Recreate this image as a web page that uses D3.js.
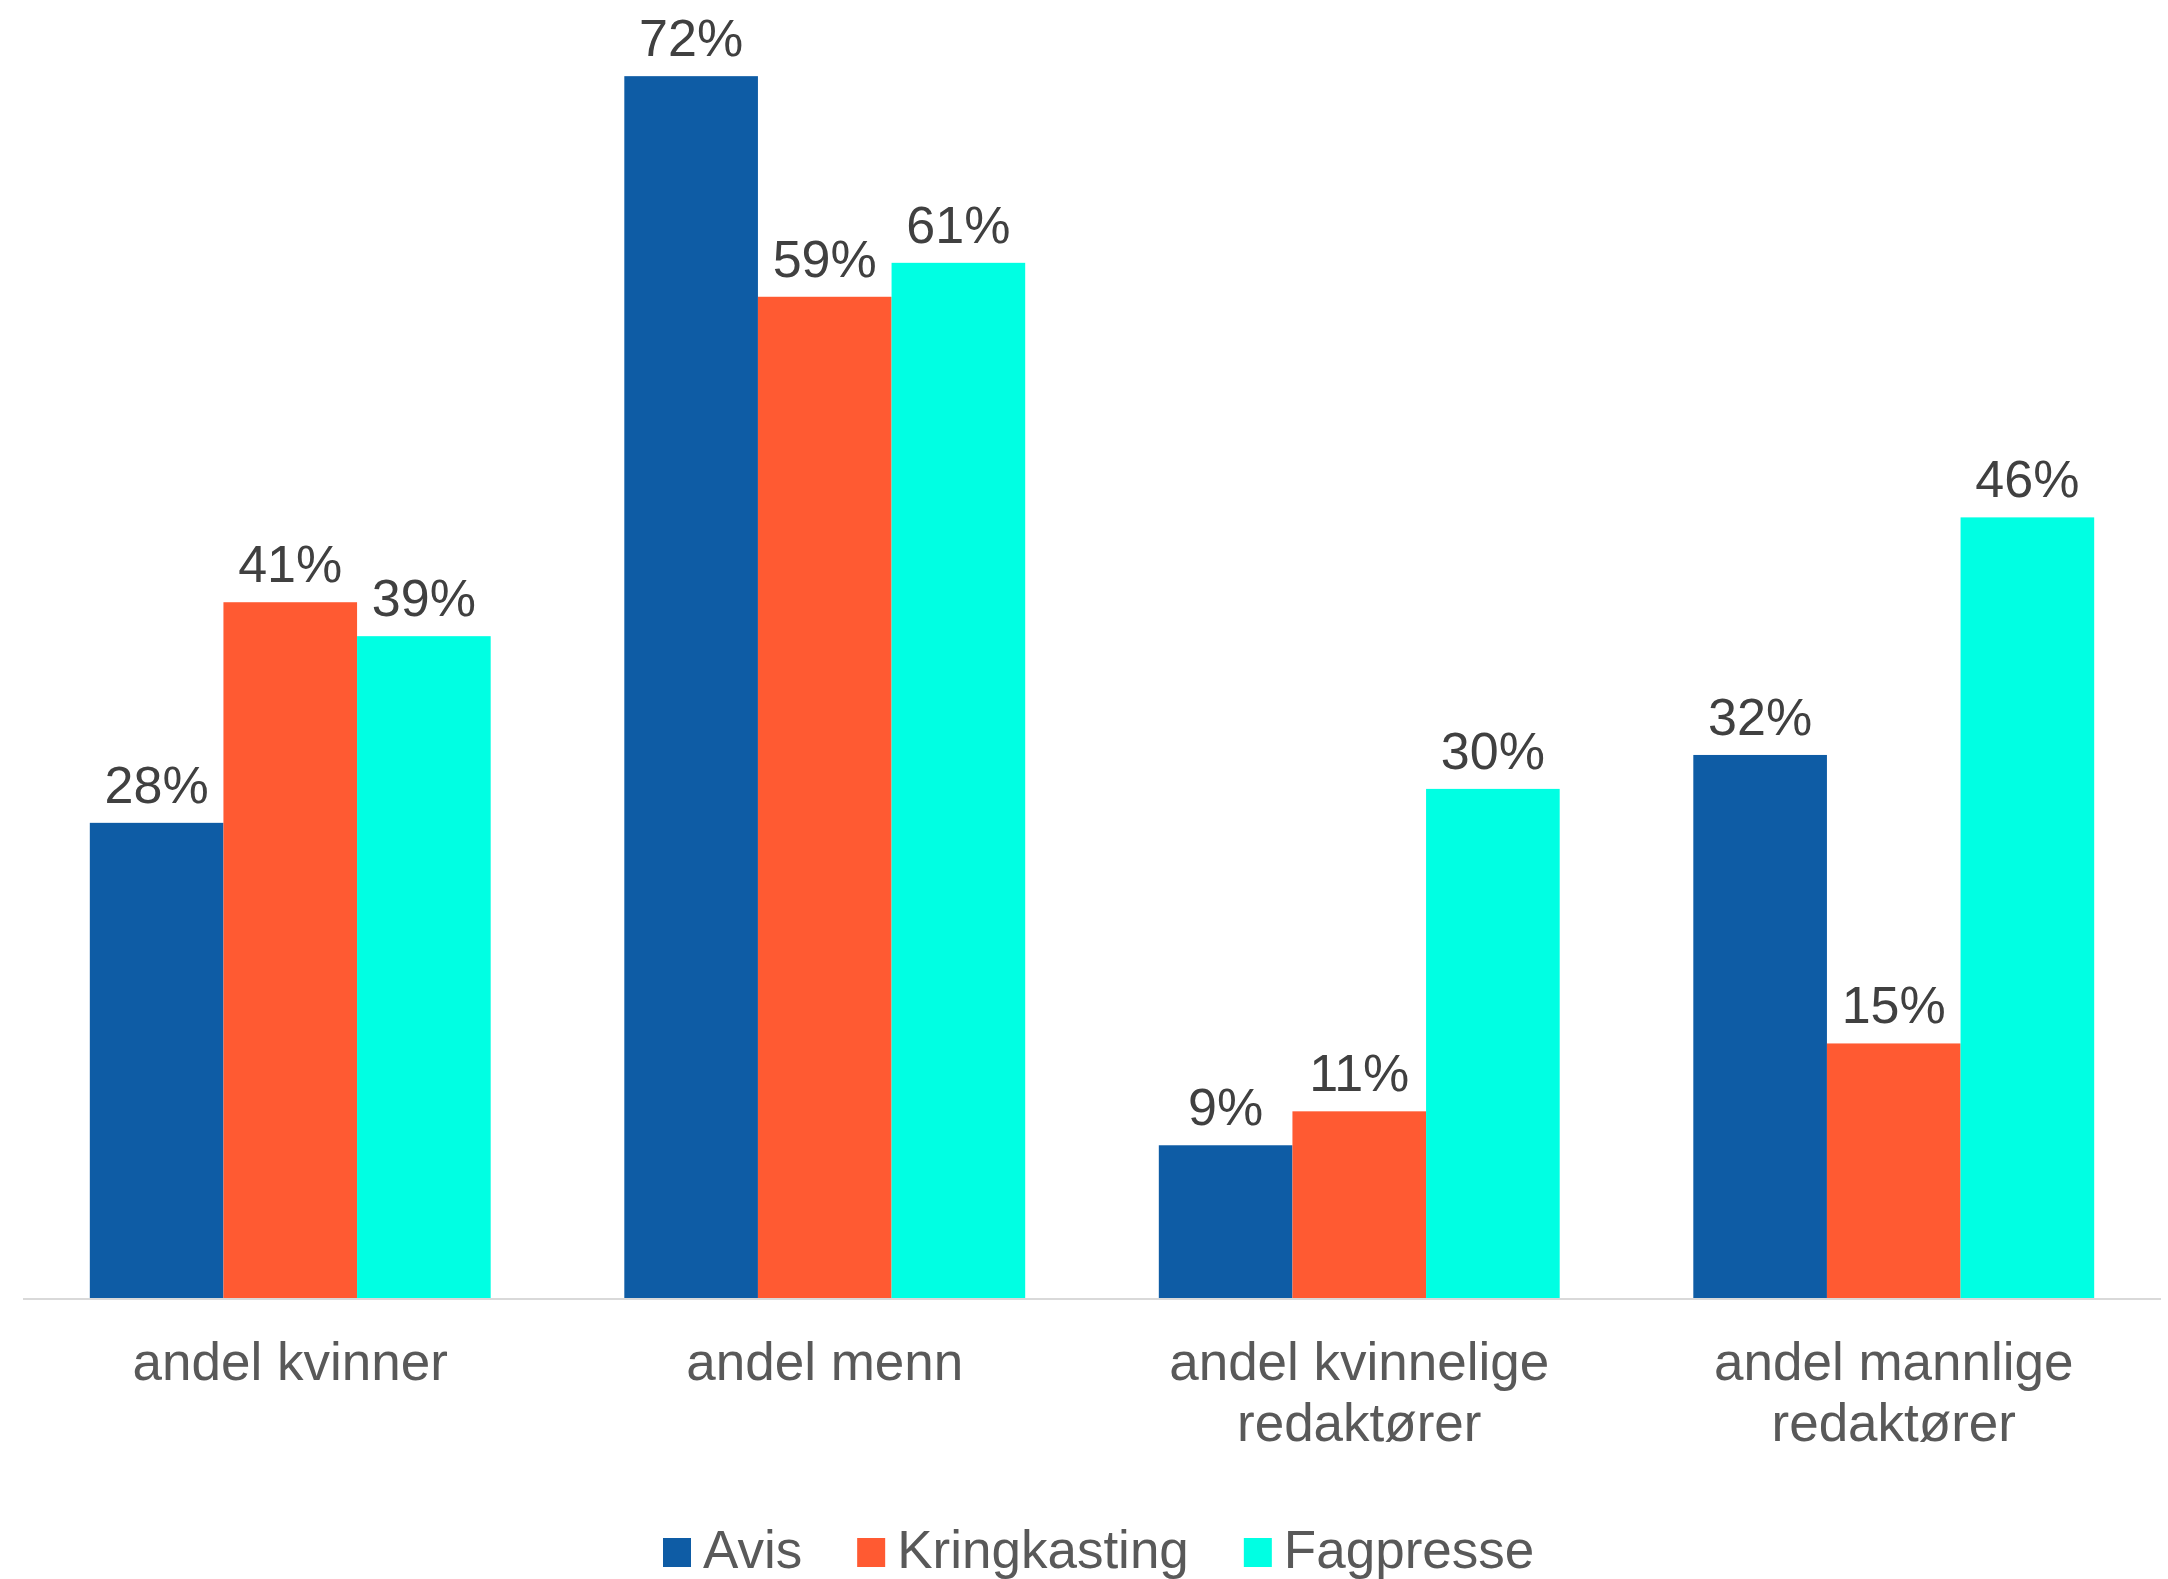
<!DOCTYPE html>
<html>
<head>
<meta charset="utf-8">
<script src="https://cdn.jsdelivr.net/npm/d3@7"></script>
<style>
  html, body { margin: 0; padding: 0; background: #ffffff; }
  svg { display: block; }
  text { font-family: "Liberation Sans", Arial, Helvetica, sans-serif; }
</style>
</head>
<body>
<svg id="chart" width="2168" height="1579"></svg>
<script>
// Categories (each label split into its display lines)
const categories = ["andel kvinner", "andel menn", "andel kvinnelige redaktører", "andel mannlige redaktører"];
const categoryLines = [["andel kvinner"], ["andel menn"], ["andel kvinnelige", "redaktører"], ["andel mannlige", "redaktører"]];

// Series
const seriesNames = ["Avis", "Kringkasting", "Fagpresse"];
const avis = [0.28, 0.72, 0.09, 0.32];
const kringkasting = [0.41, 0.59, 0.11, 0.15];
const fagpresse = [0.39, 0.61, 0.30, 0.46];
const seriesColors = ["#0E5CA5", "#FF5A32", "#00FFE3"];

const seriesValues = [avis, kringkasting, fagpresse];

const width = 2168, height = 1579;
const plot = { left: 23, right: 2161, baseline: 1298 };

const svg = d3.select("#chart");

const x0 = d3.scaleBand()
  .domain(categories)
  .range([plot.left, plot.right])
  .paddingInner(0.25)
  .paddingOuter(0.125);

const x1 = d3.scaleBand()
  .domain(seriesNames)
  .range([0, x0.bandwidth()])
  .padding(0);

// 100 % corresponds to ~1697 px
const y = d3.scaleLinear()
  .domain([0, 0.72])
  .range([plot.baseline, plot.baseline - 0.72 * 1697]);

const color = d3.scaleOrdinal().domain(seriesNames).range(seriesColors);

const rows = categories.map((c, i) => ({
  category: c,
  values: seriesNames.map((s, j) => ({ series: s, value: seriesValues[j][i] }))
}));

const groups = svg.append("g")
  .selectAll("g")
  .data(rows)
  .join("g")
  .attr("transform", d => `translate(${x0(d.category)},0)`);

groups.selectAll("rect")
  .data(d => d.values)
  .join("rect")
  .attr("x", d => x1(d.series))
  .attr("y", d => y(d.value))
  .attr("width", x1.bandwidth())
  .attr("height", d => y(0) - y(d.value))
  .attr("fill", d => color(d.series));

// Value labels
groups.selectAll("text.value")
  .data(d => d.values)
  .join("text")
  .attr("class", "value")
  .attr("x", d => x1(d.series) + x1.bandwidth() / 2)
  .attr("y", d => y(d.value) - 20)
  .attr("text-anchor", "middle")
  .attr("font-size", 52)
  .attr("fill", "#404040")
  .text(d => d3.format(".0%")(d.value));

// Category axis line
svg.append("line")
  .attr("x1", plot.left)
  .attr("x2", plot.right)
  .attr("y1", plot.baseline + 1)
  .attr("y2", plot.baseline + 1)
  .attr("stroke", "#D9D9D9")
  .attr("stroke-width", 2);

// Category labels
const catLabels = svg.append("g")
  .selectAll("text")
  .data(categories)
  .join("text")
  .attr("x", d => x0(d) + x0.bandwidth() / 2)
  .attr("y", 1380)
  .attr("text-anchor", "middle")
  .attr("font-size", 53)
  .attr("fill", "#595959");

catLabels.each(function(d, i) {
  const t = d3.select(this);
  categoryLines[i].forEach((line, k) => {
    t.append("tspan")
      .attr("x", x0(d) + x0.bandwidth() / 2)
      .attr("dy", k === 0 ? 0 : 61)
      .text(line);
  });
});

// Legend
const legend = svg.append("g").attr("transform", "translate(663,0)");
let lx = 0;
seriesNames.forEach((s, i) => {
  const item = legend.append("g").attr("transform", `translate(${lx},0)`);
  item.append("rect")
    .attr("x", 0)
    .attr("y", 1538)
    .attr("width", 28)
    .attr("height", 29)
    .attr("fill", color(s));
  const label = item.append("text")
    .attr("x", 40)
    .attr("y", 1568)
    .attr("font-size", 53)
    .attr("fill", "#595959")
    .text(s);
  lx += 40 + label.node().getComputedTextLength() + 55;
});
</script>
</body>
</html>
